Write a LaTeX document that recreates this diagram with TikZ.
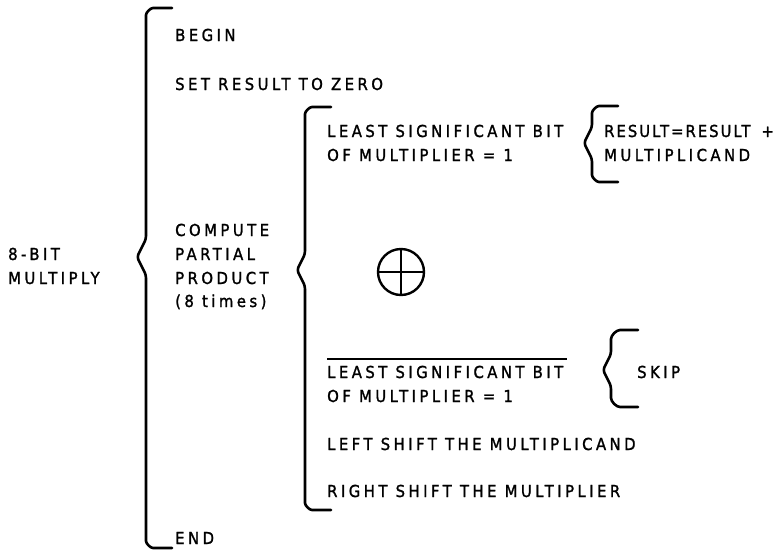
\documentclass[tikz,border=0pt]{standalone}
\usepackage{fontspec}
\setmainfont{DejaVu Sans Condensed}[LetterSpace=21, FakeBold=1.4]
\newfontfamily\tightfont{DejaVu Sans Condensed}[LetterSpace=12, FakeBold=1.4]
% curly brace opening to the right:
% #1 x of stem, #2 x of hook ends, #3 top y, #4 bottom y, #5 x of tip, #6 y of tip, #7 hook radius
\newcommand{\curlybrace}[7]{%
  \draw[bracestroke] (#2,#3) -- (#1+#7,#3) to[out=180,in=90] (#1,#3+#7)
    -- (#1,#6-2*#1+2*#5) -- (#5,#6) -- (#1,#6+2*#1-2*#5)
    -- (#1,#4-#7) to[out=-90,in=180] (#1+#7,#4) -- (#2,#4);}
\begin{document}
\begin{tikzpicture}[x=1pt,y=-1pt,
  lbl/.style={anchor=base west, inner sep=0pt, font=\fontsize{16.5}{19}\selectfont},
  bracestroke/.style={line width=2.6pt, line cap=round, line join=round, rounded corners=3pt},
  bar/.style={line width=2.4pt},
  ]
\useasboundingbox (0,0) rectangle (774,552);

% outer level
\node[lbl] (bits) at (8,260) {8-BIT};
\node[lbl] (mult) at (8,284) {MULTIPLY};
\curlybrace{146}{172}{8}{548}{137}{257}{10}

% main sequence
\node[lbl] (begin) at (175,41) {BEGIN};
\node[lbl] (setres) at (175,90) {SET RESULT TO ZERO};
\node[lbl] (comp1) at (175,236) {COMPUTE};
\node[lbl] (comp2) at (175,260) {PARTIAL};
\node[lbl] (comp3) at (175,284) {PRODUCT};
\node[lbl] (comp4) at (175,307) {(8 times)};
\node[lbl] (endn) at (175,544) {END};

% partial product
\curlybrace{305}{331}{107}{510}{297}{270}{10}
\node[lbl] (lsba) at (327,137) {LEAST SIGNIFICANT BIT};
\node[lbl] (lsbb) at (327,161) {OF MULTIPLIER = 1};
\curlybrace{592}{618}{106}{182}{584}{143}{10}
\node[lbl] (add1) at (604,137) {{\tightfont RESULT=RESULT}\hspace{11pt}+};
\node[lbl] (add2) at (604,161) {MULTIPLICAND};

% exclusive-or symbol
\node[circle, draw, line width=2.4pt, minimum size=46pt, inner sep=0pt] (xor) at (401,272) {};
\draw[bar] (xor.north) -- (xor.south);
\draw[bar] (xor.west) -- (xor.east);

% complemented condition
\coordinate (ovl) at (0,359);
\node[lbl] (nlsba) at (327,378) {LEAST SIGNIFICANT BIT};
\node[lbl] (nlsbb) at (327,402) {OF MULTIPLIER = 1};
\draw[bar] (nlsba.west |- ovl) -- (567,359);
\curlybrace{611}{638}{330}{407}{603}{370}{12}
\node[lbl] (skip) at (637,378) {SKIP};

\node[lbl] (lshift) at (327,450) {LEFT SHIFT THE MULTIPLICAND};
\node[lbl] (rshift) at (327,497) {RIGHT SHIFT THE MULTIPLIER};
\end{tikzpicture}
\end{document}
